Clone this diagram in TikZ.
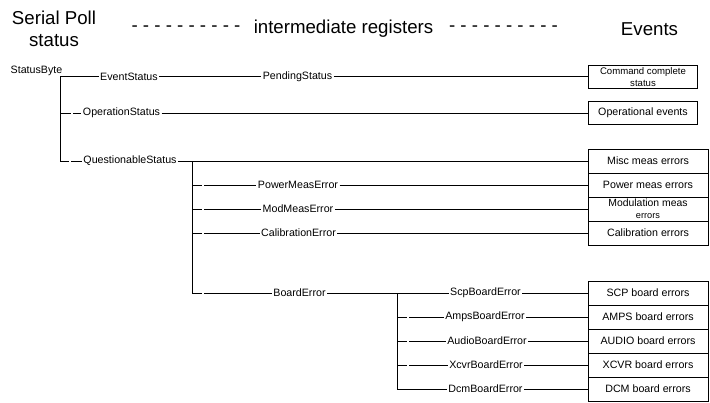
\documentclass[tikz,border=0pt]{standalone}
\usepackage{fontspec}
\setmainfont{Liberation Sans}

\tikzset{every picture/.style={line width=0.75pt}}
\tikzset{
	lbl/.style={inner sep=0.75pt, font=\fontsize{8}{9.6}\selectfont},
	head/.style={inner sep=0pt, font=\fontsize{14}{16.5}\selectfont, align=center},
	evbox/.style={draw, inner sep=0pt, align=center, minimum height=18pt, minimum width=90pt, font=\fontsize{8}{9.6}\selectfont},
	evboxs/.style={evbox, minimum width=81.75pt, minimum height=17.25pt}}

\begin{document}
\begin{tikzpicture}[x=0.75pt,y=0.75pt,yscale=-1,xscale=1]
	\useasboundingbox (0,0) rectangle (710,403);

	% Header nodes
	\node[head] (spoll) at (54,29) {Serial Poll\\status};
	\node[head] (dashl) at (186,29) {- - - - - - - - - -};
	\node[head] (inter) at (343.5,29) {intermediate registers};
	\node[head] (dashr) at (503.5,29) {- - - - - - - - - -};
	\node[head] (events) at (649.5,29) {Events};

	% Register nodes
	\node[lbl] (sbyte) at (36.5,71) {StatusByte};
	\node[lbl] (evs) at (129,77) {EventStatus};
	\node[lbl] (pend) at (297.5,77) {PendingStatus};
	\node[lbl] (ops) at (121.5,113) {OperationStatus};
	\node[lbl] (qs) at (130,161) {QuestionableStatus};
	\node[lbl] (pme) at (298,185) {PowerMeasError};
	\node[lbl] (mme) at (298,209) {ModMeasError};
	\node[lbl] (cale) at (298.5,233) {CalibrationError};
	\node[lbl] (bde) at (299.5,293) {BoardError};
	\node[lbl] (scpe) at (485.5,293) {ScpBoardError};
	\node[lbl] (ampe) at (485,317) {AmpsBoardError};
	\node[lbl] (aude) at (487,341) {AudioBoardError};
	\node[lbl] (xcve) at (486,365) {XcvrBoardError};
	\node[lbl] (dcme) at (485.5,389) {DcmBoardError};

	% Event boxes
	\node[evboxs, font=\fontsize{7.2}{9.3}\selectfont] (cmd) at (643,77) {Command complete\\status};
	\node[evboxs] (oper) at (643,113) {Operational events};
	\node[evbox] (misc) at (648,161) {Misc meas errors};
	\node[evbox] (pwr) at (648,185) {Power meas errors};
	\node[evbox] (modm) at (648,209) {\fontsize{7.8}{9.75}\selectfont Modulation meas\\[-0.5pt]\fontsize{6.9}{8}\selectfont errors};
	\node[evbox] (calb) at (648,233) {Calibration errors};
	\node[evbox] (scp) at (648,293) {SCP board errors};
	\node[evbox] (amps) at (648,317) {AMPS board errors};
	\node[evbox] (audio) at (648,341) {AUDIO board errors};
	\node[evbox] (xcvr) at (648,365) {XCVR board errors};
	\node[evbox] (dcm) at (648,389) {DCM board errors};

	% Bus corners
	\coordinate (bat) at (60,77);
	\coordinate (bab) at (60,161);
	\coordinate (bbt) at (192,161);
	\coordinate (bbb) at (192,293);
	\coordinate (bct) at (397,293);
	\coordinate (bcb) at (397,389);

	%Straight Lines
	\draw (bab) -- (bat) -- (evs);
	\draw (evs) -- (pend);
	\draw (pend) -- (cmd);
	\draw (bat |- ops) -- ++(11,0) ++(2,0) -- (ops);
	\draw (ops) -- (oper);
	\draw (bab) -- ++(9,0) ++(2,0) -- (qs);
	\draw (qs) -- (misc);
	%Straight Lines
	\draw (bbt) -- (bbb) -- ++(10,0) ++(2,0) -- (bde);
	\draw (bbt |- pme) -- ++(10,0) ++(2,0) -- (pme);
	\draw (pme) -- (pwr);
	\draw (bbt |- mme) -- ++(10,0) ++(2,0) -- (mme);
	\draw (mme) -- (modm);
	\draw (bbt |- cale) -- ++(10,0) ++(2,0) -- (cale);
	\draw (cale) -- (calb);
	%Straight Lines
	\draw (bde) -- (scpe);
	\draw (scpe) -- (scp);
	\draw (bct) -- (bcb) -- (dcme);
	\draw (dcme) -- (dcm);
	\draw (bct |- ampe) -- ++(10,0) ++(2,0) -- (ampe);
	\draw (ampe) -- (amps);
	\draw (bct |- aude) -- ++(10,0) ++(2,0) -- (aude);
	\draw (aude) -- (audio);
	\draw (bct |- xcve) -- ++(10,0) ++(2,0) -- (xcve);
	\draw (xcve) -- (xcvr);

\end{tikzpicture}
\end{document}
